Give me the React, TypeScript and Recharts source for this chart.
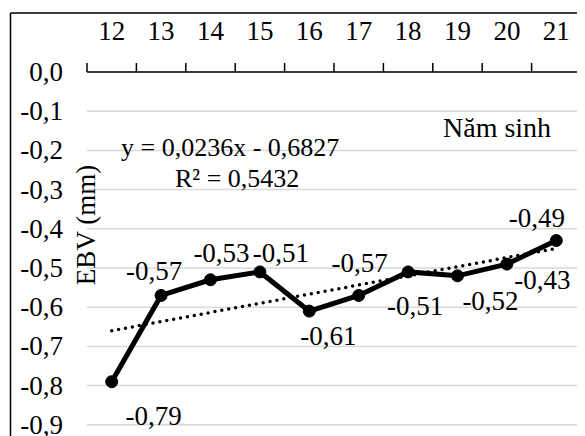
import React from "react";
import {
  LineChart,
  Line,
  XAxis,
  YAxis,
  CartesianGrid,
  LabelList,
  Customized,
} from "recharts";

// ---- data ----
const years = [12, 13, 14, 15, 16, 17, 18, 19, 20, 21];
const ebvValues = [-0.79, -0.57, -0.53, -0.51, -0.61, -0.57, -0.51, -0.52, -0.49, -0.43];
const trendValues: (number | null)[] = [-0.66, null, null, null, null, null, null, null, null, -0.45];
const yTicks = [0, -0.1, -0.2, -0.3, -0.4, -0.5, -0.6, -0.7, -0.8, -0.9, -1.0];
const equationText = "y = 0,0236x - 0,6827";
const r2Text = "R² = 0,5432";
const xAxisTitle = "Năm sinh";
const yAxisTitle = "EBV (mm)";

const data = years.map((year, i) => ({
  year,
  ebv: ebvValues[i],
  trend: trendValues[i],
}));

// label offsets (style) relative to each point, center of text
const labelOffsets: [number, number][] = [
  [42, 34],
  [-7, -24],
  [11, -27],
  [21, -19],
  [19, 25],
  [1, -32],
  [7, 34],
  [33, 25],
  [30, -46],
  [-14, 39],
];

const FONT = "'Liberation Serif', 'Times New Roman', serif";
const FS = 27;

const fmt = (v: number) =>
  Math.abs(v) < 1e-9 ? "0,0" : v.toFixed(1).replace(".", ",");

const renderLabel = (props: any) => {
  const { x, y, value, index } = props;
  const off = labelOffsets[index] || [0, -20];
  return (
    <text
      x={x + off[0]}
      y={y + off[1]}
      textAnchor="middle"
      dominantBaseline="central"
      style={{ fontFamily: FONT, fontSize: FS }}
      fill="#000"
    >
      {Number(value).toFixed(2).replace(".", ",")}
    </text>
  );
};

const XTick = (props: any) => {
  const { x, y, payload, index, width } = props;
  const band = (width || 494) / years.length;
  const lx = x - band / 2;
  const isLast = index === years.length - 1;
  return (
    <g>
      <line x1={lx} y1={y} x2={lx} y2={y - 9} stroke="#000" strokeWidth={1.5} />
      {isLast && (
        <line x1={x + band / 2} y1={y} x2={x + band / 2} y2={y - 9} stroke="#000" strokeWidth={1.5} />
      )}
      <text
        x={x}
        y={y - 32}
        textAnchor="middle"
        style={{ fontFamily: FONT, fontSize: FS }}
        fill="#000"
      >
        {payload.value}
      </text>
    </g>
  );
};

const YTick = (props: any) => {
  const { x, y, payload } = props;
  return (
    <text
      x={x}
      y={y}
      textAnchor="end"
      dominantBaseline="central"
      style={{ fontFamily: FONT, fontSize: FS }}
      fill="#000"
    >
      {fmt(payload.value)}
    </text>
  );
};

const Annotations = () => (
  <g>
    <line x1={2.5} y1={5} x2={580} y2={5} stroke="#000" strokeWidth={1.5} />
    <line x1={2.5} y1={5} x2={2.5} y2={470} stroke="#000" strokeWidth={1.5} />
    <text x={113} y={148} style={{ fontFamily: FONT, fontSize: 26 }} fill="#000">
      {equationText}
    </text>
    <text x={167} y={179} style={{ fontFamily: FONT, fontSize: 26 }} fill="#000">
      {r2Text}
    </text>
    <text x={435} y={129} style={{ fontFamily: FONT, fontSize: 28 }} fill="#000">
      {xAxisTitle}
    </text>
    <text
      x={87}
      y={217}
      textAnchor="middle"
      transform="rotate(-90, 87, 217)"
      style={{ fontFamily: FONT, fontSize: FS }}
      fill="#000"
    >
      {yAxisTitle}
    </text>
  </g>
);

export default function App() {
  return (
    <div style={{ width: 577, height: 428, overflow: "hidden", fontFamily: FONT }}>
      <LineChart
        width={577}
        height={470}
        data={data}
        margin={{ top: 0, right: 4, left: 0, bottom: 14 }}
      >
        <CartesianGrid vertical={false} stroke="#d9d9d9" strokeWidth={1.5} />
        <XAxis
          dataKey="year"
          type="number"
          orientation="top"
          domain={[11.5, 21.5]}
          ticks={years}
          tick={<XTick />}
          tickSize={0}
          tickMargin={0}
          height={64}
          axisLine={{ stroke: "#000", strokeWidth: 1.5 }}
          tickLine={false}
          interval={0}
        />
        <YAxis
          type="number"
          domain={[-1, 0]}
          ticks={yTicks}
          width={79}
          tickSize={0}
          tickMargin={24}
          axisLine={false}
          tickLine={false}
          interval={0}
          tick={<YTick />}
        />
        <Line
          dataKey="trend"
          connectNulls
          stroke="#000"
          strokeWidth={3.5}
          strokeDasharray="0 7"
          strokeLinecap="round"
          dot={false}
          activeDot={false}
          isAnimationActive={false}
        />
        <Line
          dataKey="ebv"
          stroke="#000"
          strokeWidth={5}
          dot={{ r: 6, fill: "#000", stroke: "#000", strokeWidth: 1 }}
          activeDot={false}
          isAnimationActive={false}
        >
          <LabelList dataKey="ebv" content={renderLabel} />
        </Line>
        <Customized component={Annotations} />
      </LineChart>
    </div>
  );
}
